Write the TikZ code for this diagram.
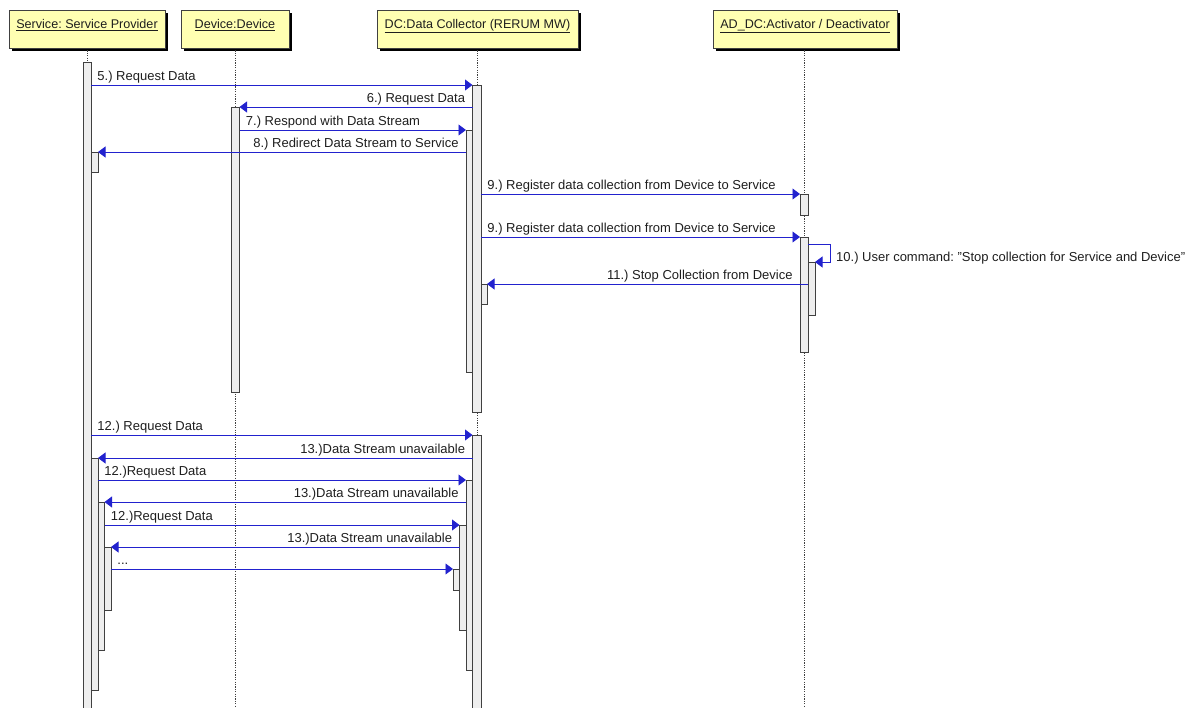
\documentclass[tikz,border=0pt]{standalone}
\usepackage{fontspec}
\setmainfont{Liberation Sans}
\usetikzlibrary{arrows.meta,shadows}
\frenchspacing

\definecolor{msgblue}{RGB}{34,34,206}
\definecolor{hdrfill}{RGB}{255,255,178}
\definecolor{barfill}{RGB}{238,238,238}
\definecolor{edgegray}{RGB}{64,64,64}
\definecolor{txt}{RGB}{30,30,30}

% activation bar: name, left x, right x, top y, bottom y
\newcommand\actbar[5]{%
  \node[actbox, minimum width={#3-#2}, minimum height={#5-#4}] (#1) at (#2,#4) {};}

\begin{document}
\begin{tikzpicture}[x=1pt,y=-1pt,
  font=\fontsize{13}{15}\selectfont,
  hdrbox/.style={draw=edgegray, fill=hdrfill, line width=1pt, minimum height=38pt,
    inner sep=0pt, drop shadow={shadow xshift=3pt, shadow yshift=-3pt, fill=black, opacity=1}},
  hdrtext/.style={text=txt, inner sep=0pt, anchor=base, font=\fontsize{12.6}{15}\selectfont},
  life/.style={draw=edgegray, line width=0.6pt, dash pattern=on 1.2pt off 1.2pt},
  actbox/.style={draw=edgegray, fill=barfill, line width=0.9pt, inner sep=0pt, outer sep=0pt,
    anchor=north west},
  msg/.style={draw=msgblue, line width=0.9pt, -{Triangle[length=7.5pt,width=11pt]}},
  lblL/.style={text=txt, inner sep=0pt, anchor=base west, xshift=6pt, yshift=4.5pt},
  lblR/.style={text=txt, inner sep=0pt, anchor=base east, xshift=-7pt, yshift=4.5pt}]

\useasboundingbox (0,0) rectangle (1186,707);

% participants
\node[hdrbox, minimum width=156pt] (sp)  at (87,29)    {};
\node[hdrbox, minimum width=108pt] (dev) at (235,29)   {};
\node[hdrbox, minimum width=201pt] (dc)  at (477.5,29) {};
\node[hdrbox, minimum width=184pt] (ad)  at (805,29)   {};
\node[hdrtext] (spt)  at ([yshift=-19pt]sp.north)  {\underline{Service: Service Provider}};
\node[hdrtext] (devt) at ([yshift=-19pt]dev.north) {\underline{Device:Device}};
\node[hdrtext] (dct)  at ([yshift=-19pt]dc.north)  {\underline{DC:Data Collector (RERUM MW)}};
\node[hdrtext] (adt)  at ([yshift=-19pt]ad.north)  {\underline{AD\_DC:Activator / Deactivator}};

% lifelines
\draw[life] (87,48) -- (87,712);
\draw[life] (235,48) -- (235,712);
\draw[life] (477,48) -- (477,712);
\draw[life] (804,48) -- (804,712);

% activation bars
\actbar{S0}{83}{91}{62}{712}
\actbar{S1}{91}{98}{152}{172}
\actbar{S2}{91}{98}{458}{690}
\actbar{S3}{98}{104.5}{502}{650}
\actbar{S4}{104.5}{111}{547}{610}
\actbar{D0}{231}{239.5}{107}{392}
\actbar{C0}{472.5}{481}{85}{412}
\actbar{C1}{466}{472.5}{130}{372}
\actbar{C2}{481}{487}{284}{304}
\actbar{C3}{472.5}{481}{435}{712}
\actbar{C4}{466}{472.5}{480}{670}
\actbar{C5}{459.5}{466}{525}{630}
\actbar{C6}{453}{459.5}{569}{590}
\actbar{A0}{800}{808}{194}{215}
\actbar{A1}{800}{808}{237}{352}
\actbar{A2}{808}{815}{262}{315}

% messages
\draw[msg] (S0.east |- 0,85) -- (C0.west |- 0,85) node[pos=0, lblL] {5.) Request Data};
\draw[msg] (C0.west |- 0,107) -- (D0.east |- 0,107) node[pos=0, lblR] {6.) Request Data};
\draw[msg] (D0.east |- 0,130) -- (C1.west |- 0,130) node[pos=0, lblL] {7.) Respond with Data Stream};
\draw[msg] (C1.west |- 0,152) -- (S1.east |- 0,152) node[pos=0, lblR] {8.) Redirect Data Stream to Service};
\draw[msg] (C0.east |- 0,194) -- (A0.west |- 0,194) node[pos=0, lblL] {9.) Register data collection from Device to Service};
\draw[msg] (C0.east |- 0,237) -- (A1.west |- 0,237) node[pos=0, lblL] {9.) Register data collection from Device to Service};
\coordinate (loop) at (830,244);
\draw[msg] (A1.east |- 0,244) -- (loop) -- (loop |- 0,262) -- (A2.east |- 0,262);
\node[text=txt, inner sep=0pt, anchor=base west] (selfl) at (836,261)
  {10.) User command: "Stop collection for Service and Device"};
\draw[msg] (A2.west |- 0,284) -- (C2.east |- 0,284) node[pos=0, lblR, xshift=-8pt] {11.) Stop Collection from Device};
\draw[msg] (S0.east |- 0,435) -- (C3.west |- 0,435) node[pos=0, lblL] {12.) Request Data};
\draw[msg] (C3.west |- 0,458) -- (S2.east |- 0,458) node[pos=0, lblR] {13.)Data Stream unavailable};
\draw[msg] (S2.east |- 0,480) -- (C4.west |- 0,480) node[pos=0, lblL] {12.)Request Data};
\draw[msg] (C4.west |- 0,502) -- (S3.east |- 0,502) node[pos=0, lblR] {13.)Data Stream unavailable};
\draw[msg] (S3.east |- 0,525) -- (C5.west |- 0,525) node[pos=0, lblL] {12.)Request Data};
\draw[msg] (C5.west |- 0,547) -- (S4.east |- 0,547) node[pos=0, lblR] {13.)Data Stream unavailable};
\draw[msg] (S4.east |- 0,569) -- (C6.west |- 0,569) node[pos=0, lblL] {...};

\end{tikzpicture}
\end{document}
